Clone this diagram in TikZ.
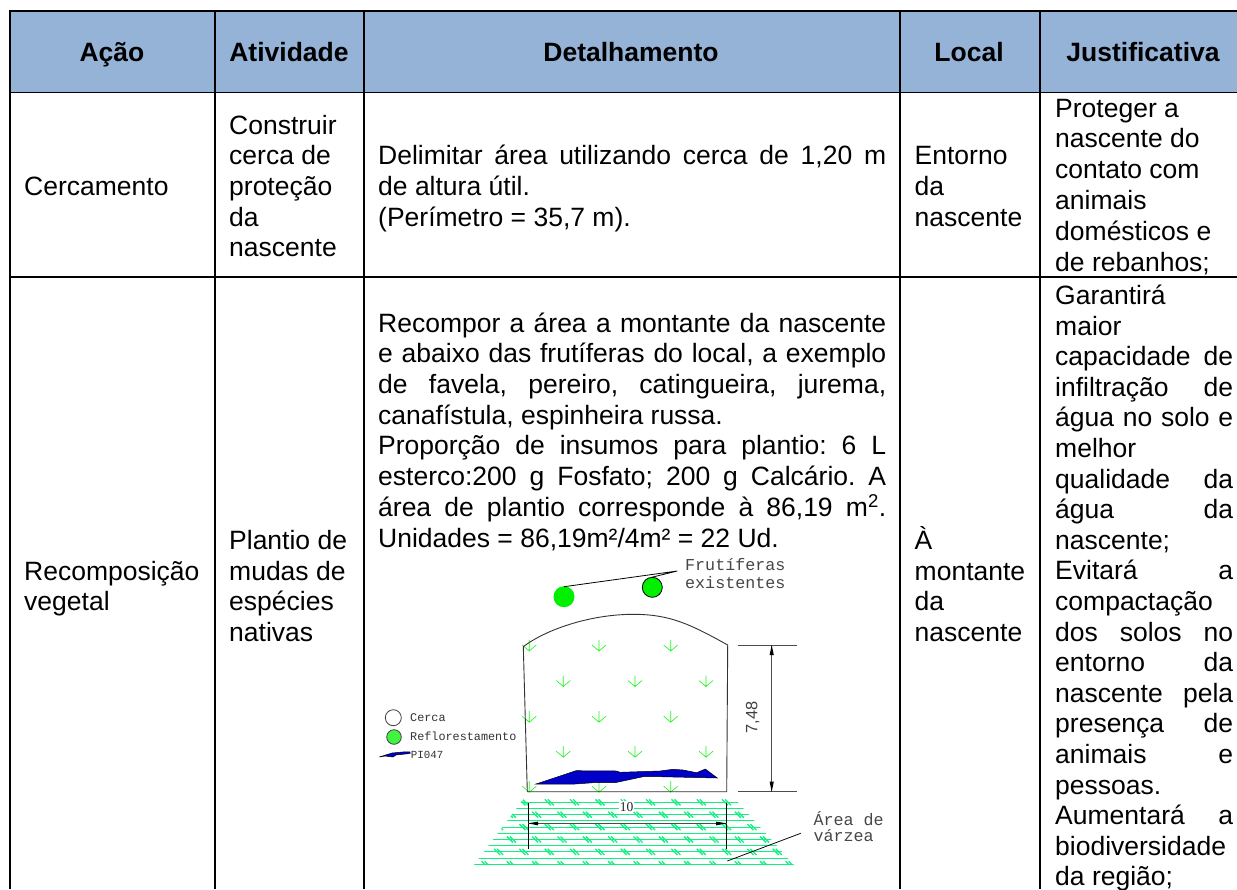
\documentclass[tikz,border=0pt]{standalone}
\usepackage{fontspec}
\setmainfont{Liberation Sans}
\newfontfamily\cadfont{Liberation Mono}
\newfontfamily\cadserif{Liberation Serif}
\frenchspacing
\definecolor{headblue}{HTML}{95B3D7}
\definecolor{plantgreen}{HTML}{22F522}
\definecolor{treegreen}{HTML}{00F000}
\definecolor{hatchgreen}{HTML}{10F080}
\definecolor{waterblue}{HTML}{0000C8}
\tikzset{
  x=1pt,y=-1pt,
  gridline/.style={line width=1.6pt,black},
  headtxt/.style={font=\fontsize{26.5}{30}\selectfont\bfseries,inner sep=0pt,anchor=base},
  celltxt/.style={font=\fontsize{26.5}{30}\selectfont,inner sep=0pt,anchor=base west},
  cadbig/.style={font=\cadfont\fontsize{16.7}{18}\selectfont,inner sep=0pt,anchor=base west,text=black!72},
  cadsmall/.style={font=\cadfont\fontsize{11.8}{13}\selectfont,inner sep=0pt,anchor=base west,text=black!80},
  hatchline/.style={hatchgreen,line width=1.15pt},
  hatchmark/.style={hatchgreen,line width=1.3pt},
  cadline/.style={black!80,line width=.75pt},
  dimline/.style={black!70,line width=.9pt},
  seedline/.style={plantgreen,line width=.65pt},
}
\newcount\cellno
\newcommand{\ctext}[3]{\global\advance\cellno by 1
  \node[celltxt] (c\the\cellno) at (#1,#2) {#3};}
\newcommand{\jtext}[4]{\global\advance\cellno by 1
  \node[celltxt] (c\the\cellno) at (#1,#2) {\makebox[#3pt][s]{#4}};}
\newcommand{\seedat}[2]{\draw[seedline] (#1,#2-5.5)--(#1,#2+5.5) (#1-7,#2-.5)--(#1,#2+5.5)--(#1+7,#2-.5);}
\begin{document}
\begin{tikzpicture}
\useasboundingbox (0,0) rectangle (1237,889);
\fill[white] (0,0) rectangle (1237,889);
\fill[headblue] (10,11) rectangle (1237,92.5);
\draw[gridline] (10,889)--(10,11)--(1237,11);
\draw[gridline] (10,92.5)--(1237,92.5) (10,277)--(1237,277);
\draw[gridline] (215,11)--(215,889) (364,11)--(364,889) (900,11)--(900,889) (1040,11)--(1040,889);
% header
\node[headtxt] (h1) at (112,61) {Ação};
\node[headtxt] (h2) at (289,61) {Atividade};
\node[headtxt] (h3) at (631,61) {Detalhamento};
\node[headtxt] (h4) at (969,61) {Local};
\node[headtxt] (h5) at (1143,61) {Justificativa};
% row 1
\ctext{24}{195.4}{Cercamento}
\ctext{229}{134}{Construir}
\ctext{229}{164.7}{cerca de}
\ctext{229}{195.4}{proteção}
\ctext{229}{226}{da}
\ctext{229}{256.8}{nascente}
\jtext{378}{164.7}{508}{Delimitar área utilizando cerca de 1,20 m}
\ctext{378}{195.4}{de altura útil.}
\ctext{378}{226}{(Perímetro = 35,7 m).}
\ctext{914.5}{164.7}{Entorno}
\ctext{914.5}{195.4}{da}
\ctext{914.5}{226}{nascente}
\ctext{1055}{117}{Proteger a}
\ctext{1055}{147.8}{nascente do}
\ctext{1055}{178.6}{contato com}
\ctext{1055}{209.4}{animais}
\ctext{1055}{240.2}{domésticos e}
\ctext{1055}{271}{de rebanhos;}
% row 2
\ctext{24}{580}{Recomposição}
\ctext{24}{610.7}{vegetal}
\ctext{229}{549.3}{Plantio de}
\ctext{229}{580}{mudas de}
\ctext{229}{610.7}{espécies}
\ctext{229}{641}{nativas}
\jtext{378}{332}{508}{Recompor a área a montante da nascente}
\jtext{378}{362.7}{508}{e abaixo das frutíferas do local, a exemplo}
\jtext{378}{393.4}{508}{de favela, pereiro, catingueira, jurema,}
\ctext{378}{424.1}{canafístula, espinheira russa.}
\jtext{378}{454.8}{508}{Proporção de insumos para plantio: 6 L}
\jtext{378}{485.5}{508}{esterco:200 g Fosfato; 200 g Calcário. A}
\jtext{378}{516.2}{508}{área de plantio corresponde à 86,19 m\textsuperscript{2}.}
\ctext{378}{547}{Unidades = 86,19m²/4m² = 22 Ud.}
\ctext{914.5}{549.3}{À}
\ctext{914.5}{580}{montante}
\ctext{914.5}{610.7}{da}
\ctext{914.5}{641}{nascente}
\ctext{1055}{304.4}{Garantirá}
\ctext{1055}{335}{maior}
\jtext{1055}{365.6}{178}{capacidade de}
\jtext{1055}{396.2}{178}{infiltração de}
\jtext{1055}{426.8}{178}{água no solo e}
\ctext{1055}{457.4}{melhor}
\jtext{1055}{488}{178}{qualidade da}
\jtext{1055}{518.6}{178}{água da}
\ctext{1055}{549.2}{nascente;}
\jtext{1055}{579.8}{178}{Evitará a}
\ctext{1055}{610.4}{compactação}
\jtext{1055}{641}{178}{dos solos no}
\jtext{1055}{671.6}{178}{entorno da}
\jtext{1055}{702.2}{178}{nascente pela}
\jtext{1055}{732.8}{178}{presença de}
\jtext{1055}{763.4}{178}{animais e}
\ctext{1055}{794}{pessoas.}
\jtext{1055}{824.6}{178}{Aumentará a}
\ctext{1055}{855.2}{biodiversidade}
\ctext{1055}{885.8}{da região;}
% --- site sketch: hatched floodplain
\begin{scope}
\clip (523.5,799) -- (735,799) -- (794,865) -- (474,865) -- cycle;
\foreach \y in {802.3,808.5,814.7,820.9,827.1,833.3,839.5,845.7,851.9,858.1,864.3}
  \draw[hatchline] (470,\y)--(800,\y);
\foreach \y/\x in {802.3/473.3,814.7/460.7,827.1/473.3,839.5/460.7,851.9/473.3,864.3/460.7}
  \foreach \k in {0,...,14} {
    \draw[hatchmark] ({\x+25.33*\k-4.5},\y-3)--({\x+25.33*\k+1.5},\y+3);
    \draw[hatchmark] ({\x+25.33*\k-1.5},\y-3)--({\x+25.33*\k+4.5},\y+3);
  }
\end{scope}
% fruit trees
\fill[treegreen] (564,596.7) circle (10.5);
\draw[black,line width=.8pt,fill=treegreen] (652.3,587.3) circle (10);
\coordinate (lt1) at (564,586.7);
\coordinate (lt2) at (651.7,577.3);
\coordinate (lte) at (677.3,571);
\draw[black,line width=.8pt] (lt1)--(lte) (lt2)--(lte);
\node[cadbig] (frut) at (685,570.7) {Frutíferas};
\node[cadbig] (exis) at (685,588) {existentes};
% seedlings
\foreach \y in {645.5,716.7,786.7} \foreach \x in {529.3,599,670.7} {\seedat{\x}{\y}}
\foreach \y in {681,751.7} \foreach \x in {563.3,635,706} {\seedat{\x}{\y}}
% fence boundary
\draw[cadline,line width=.9pt,line join=round] (527.3,791.7)--(523.3,646.7)
  .. controls (545,630) and (590,614) .. (634.7,614.3)
  .. controls (670,614.6) and (690,624) .. (727.7,645)
  --(726.7,791.7)--cycle;
% watercourse
\draw[black,line width=.5pt,fill=waterblue] (536,784)--(576,770.7)--(616.7,771)--(620,772.3)--(660,771)--(673,769.3)--(683,770)--(696.7,772.7)--(705.3,769)--(717.3,778)--(660,776.7)--(643,776.7)--(615,782.7)--(593,782.7)--(575,784)--cycle;
% dimension 7,48
\coordinate (va) at (771.7,645);
\coordinate (vb) at (771.7,791.7);
\draw[dimline] (737.7,645)--(796.7,645) (737.7,791.7)--(796.7,791.7);
\draw[dimline] (va)--(vb);
\fill[black] (771.7,645)--(773.8,655)--(769.6,655)--cycle;
\fill[black] (771.7,791.7)--(773.8,781.7)--(769.6,781.7)--cycle;
\node[rotate=90,inner sep=0pt,text=black!75,font=\fontsize{16.4}{18}\selectfont] (d748) at (752.7,717.7) {7,48};
% dimension 10
\coordinate (ha) at (528.3,823.3);
\coordinate (hb) at (726.7,823.3);
\draw[dimline,black] (528.3,803)--(528.3,849) (726.7,803)--(726.7,849);
\draw[dimline] (ha)--(hb);
\fill[black] (528.3,823.3)--(538,821.6)--(538,825.4)--cycle;
\fill[black] (726.7,823.3)--(716,821.6)--(716,825.4)--cycle;
\node[fill=white,inner sep=1pt,text=black!85,font=\cadserif\fontsize{13.5}{15}\selectfont] (d10) at (626.7,806.7) {10};
% floodplain label
\coordinate (lva) at (800.7,833.3);
\coordinate (lvb) at (727.3,861);
\draw[black,line width=.75pt] (lva)--(lvb);
\node[cadbig] (ar1) at (813.3,825) {Área de};
\node[cadbig] (ar2) at (813.3,841.7) {várzea};
% legend
\draw[black!75,line width=.8pt,fill=white] (393.3,717.7) circle (8);
\draw[black!75,line width=.8pt,fill=treegreen!75!white] (394,737) circle (7.3);
\draw[black,line width=.5pt,fill=waterblue] (379.3,757)--(392,753)--(405,751.8)--(410,752)--(410,753.5)--(396,755)--(393,757)--(385,756)--cycle;
\node[cadsmall] (l1) at (410,721.7) {Cerca};
\node[cadsmall] (l2) at (410,740) {Reflorestamento};
\node[cadsmall,font=\cadfont\fontsize{10.8}{12}\selectfont] (l3) at (410.7,758.3) {PI047};
\end{tikzpicture}
\end{document}
